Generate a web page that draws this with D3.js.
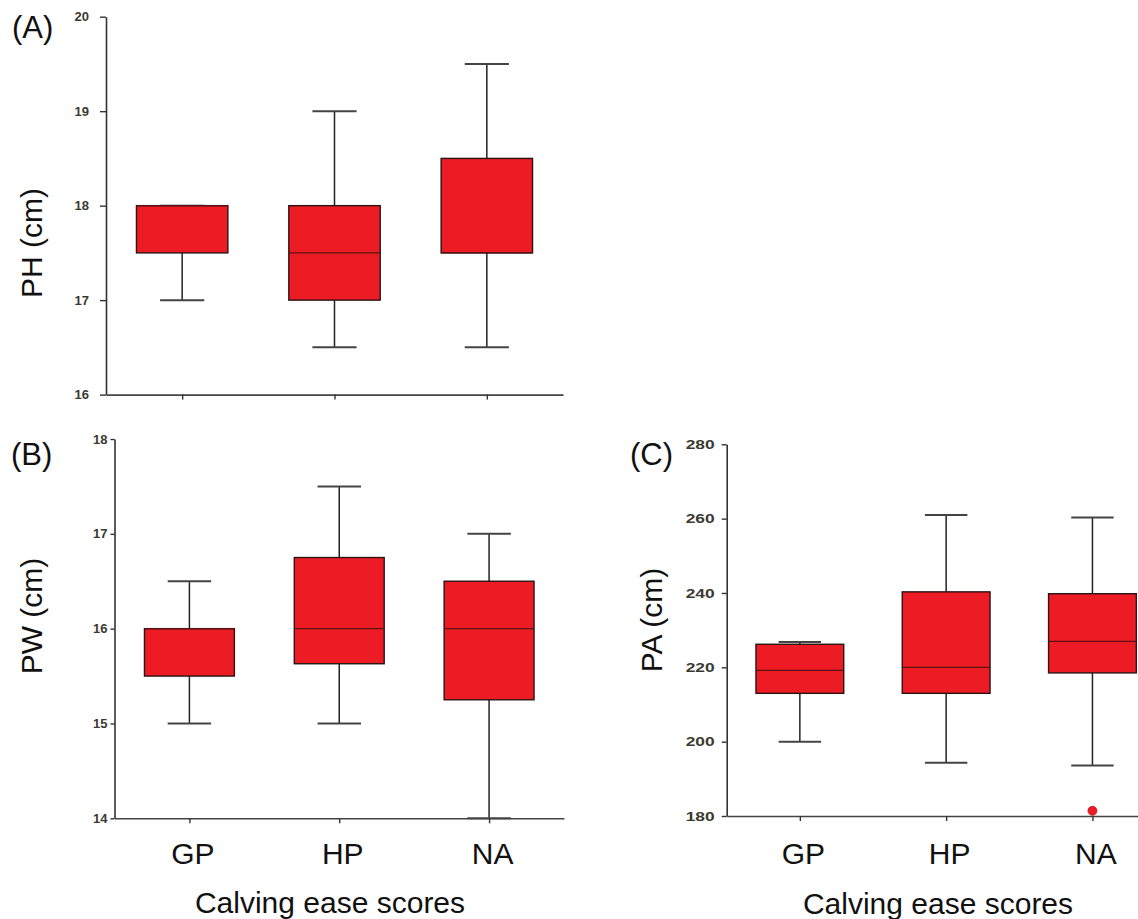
<!DOCTYPE html>
<html>
<head>
<meta charset="utf-8">
<script src="https://cdn.jsdelivr.net/npm/d3@7"></script>
<style>
  html, body { margin: 0; padding: 0; background: #fff; }
  svg { display: block; }
  text { font-family: "Liberation Sans", Arial, sans-serif; }
</style>
</head>
<body>
<svg id="chart" width="1138" height="919"></svg>
<script>
// ---- data ----
const categories = ["GP", "HP", "NA"];

// (A) PH (cm)
const phMin = [17.0, 16.5, 16.5];
const phQ1  = [17.5, 17.0, 17.5];
const phMed = [18.0, 17.5, 17.5];
const phQ3  = [18.0, 18.0, 18.5];
const phMax = [18.0, 19.0, 19.5];
const phTicks = [16, 17, 18, 19, 20];

// (B) PW (cm)
const pwMin = [15.0, 15.0, 14.0];
const pwQ1  = [15.5, 15.63, 15.25];
const pwMed = [16.0, 16.0, 16.0];
const pwQ3  = [16.0, 16.75, 16.5];
const pwMax = [16.5, 17.5, 17.0];
const pwTicks = [14, 15, 16, 17, 18];

// (C) PA (cm)
const paMin = [200.0, 194.3, 193.6];
const paQ1  = [213.0, 213.0, 218.5];
const paMed = [219.2, 220.0, 227.0];
const paQ3  = [226.2, 240.3, 239.8];
const paMax = [226.8, 261.0, 260.3];
const paOutCat = ["NA"];
const paOutVal = [181.4];
const paTicks = [180, 200, 220, 240, 260, 280];

const xTitle = "Calving ease scores";

// ---- drawing ----
const svg = d3.select("#chart");
const FILL = "#ed1c24";

function panel(cfg) {
  const g = svg.append("g");
  const x = d3.scalePoint().domain(categories).range([cfg.x0, cfg.x1]).padding(0.5);
  const y = d3.scaleLinear().domain(cfg.domain).range([cfg.yBottom, cfg.yTop]);
  const step = x.step();
  const bw = step * 0.6, cw = step * 0.29;

  const rows = categories.map((c, i) => ({
    c, min: cfg.min[i], q1: cfg.q1[i], med: cfg.med[i], q3: cfg.q3[i], max: cfg.max[i]
  }));

  // whiskers
  g.selectAll(".wl").data(rows).join("line")
    .attr("x1", d => x(d.c)).attr("x2", d => x(d.c))
    .attr("y1", d => y(d.min)).attr("y2", d => y(d.q1))
    .attr("stroke", "#222").attr("stroke-width", 1.5);
  g.selectAll(".wu").data(rows).join("line")
    .attr("x1", d => x(d.c)).attr("x2", d => x(d.c))
    .attr("y1", d => y(d.q3)).attr("y2", d => y(d.max))
    .attr("stroke", "#222").attr("stroke-width", 1.5);
  // caps
  ["min", "max"].forEach(k => {
    g.selectAll(".cap" + k).data(rows).join("line")
      .attr("x1", d => x(d.c) - cw / 2).attr("x2", d => x(d.c) + cw / 2)
      .attr("y1", d => y(d[k])).attr("y2", d => y(d[k]))
      .attr("stroke", "#444").attr("stroke-width", 2);
  });
  // boxes
  g.selectAll(".box").data(rows).join("rect")
    .attr("x", d => x(d.c) - bw / 2).attr("width", bw)
    .attr("y", d => y(d.q3)).attr("height", d => y(d.q1) - y(d.q3))
    .attr("fill", FILL).attr("stroke", "#2a1414").attr("stroke-width", 1.4);
  // medians
  g.selectAll(".med").data(rows).join("line")
    .attr("x1", d => x(d.c) - bw / 2).attr("x2", d => x(d.c) + bw / 2)
    .attr("y1", d => y(d.med)).attr("y2", d => y(d.med))
    .attr("stroke", "#5a1212").attr("stroke-width", 1.3);
  // outliers
  if (cfg.outCat) {
    g.selectAll(".out").data(cfg.outCat.map((c, i) => ({ c, v: cfg.outVal[i] }))).join("circle")
      .attr("cx", d => x(d.c)).attr("cy", d => y(d.v)).attr("r", 4.5)
      .attr("fill", FILL).attr("stroke", "#c0151b").attr("stroke-width", 0.8);
  }

  // y axis
  const ya = g.append("g").attr("transform", `translate(${cfg.x0},0)`)
    .call(d3.axisLeft(y).tickValues(cfg.ticks).tickFormat(d3.format("d"))
      .tickSize(cfg.tickLen).tickSizeOuter(0).tickPadding(cfg.tickPad));
  ya.select(".domain").attr("stroke", "#333").attr("stroke-width", 1.6);
  ya.selectAll(".tick line").attr("stroke", "#333").attr("stroke-width", 1.4);
  ya.selectAll(".tick text")
    .attr("font-family", "'Liberation Sans', Arial, sans-serif")
    .attr("font-size", 13).attr("font-weight", "bold").attr("fill", "#3a3a30");
  if (cfg.tickTextLen) {
    ya.selectAll(".tick text").attr("textLength", cfg.tickTextLen).attr("lengthAdjust", "spacingAndGlyphs");
  }

  // x axis
  const xa = g.append("g").attr("transform", `translate(0,${cfg.yBottom})`)
    .call(d3.axisBottom(x).tickSize(5).tickSizeOuter(0).tickPadding(22));
  xa.select(".domain").attr("stroke", "#444").attr("stroke-width", 1.6);
  xa.selectAll(".tick line").attr("stroke", "#333").attr("stroke-width", 1.4);
  xa.selectAll(".tick text")
    .attr("font-family", "'Liberation Sans', Arial, sans-serif")
    .attr("font-size", cfg.showX ? 30 : 0).attr("fill", "#111")
    .attr("dx", 3).attr("dy", "0.71em")
    .text(d => cfg.showX ? d : "");
  if (!cfg.showX) xa.selectAll(".tick text").remove();
  else xa.selectAll(".tick text").attr("y", 0).attr("transform", "translate(0," + (cfg.catBase - cfg.yBottom - 21.3) + ")");

  // y title
  g.append("text")
    .attr("transform", `translate(${cfg.yTitleX},${cfg.yTitleY}) rotate(-90)`)
    .attr("text-anchor", "middle").attr("font-size", 30).attr("fill", "#111")
    .text(cfg.yTitle);

  // x title
  if (cfg.showX) {
    g.append("text").attr("x", cfg.xTitleX).attr("y", cfg.xTitleY)
      .attr("text-anchor", "middle").attr("font-size", 30).attr("fill", "#111")
      .text(xTitle);
  }

  // panel label
  g.append("text").attr("x", cfg.labX).attr("y", cfg.labY)
    .attr("font-size", 31).attr("fill", "#111").text(cfg.label);
}

panel({
  x0: 106, x1: 563, yTop: 16.7, yBottom: 394.6, domain: [16, 20],
  min: phMin, q1: phQ1, med: phMed, q3: phQ3, max: phMax, ticks: phTicks,
  tickLen: 6, tickPad: 11, showX: false,
  yTitle: "PH (cm)", yTitleX: 42, yTitleY: 243,
  label: "(A)", labX: 12, labY: 38
});

panel({
  x0: 114.5, x1: 564, yTop: 439, yBottom: 818.3, domain: [14, 18],
  min: pwMin, q1: pwQ1, med: pwMed, q3: pwQ3, max: pwMax, ticks: pwTicks,
  tickLen: 4, tickPad: 3, showX: true, catBase: 864,
  yTitle: "PW (cm)", yTitleX: 42, yTitleY: 616,
  xTitleX: 330, xTitleY: 913,
  label: "(B)", labX: 11, labY: 465
});

panel({
  x0: 726.7, x1: 1165.6, yTop: 444.3, yBottom: 816, domain: [180, 280],
  min: paMin, q1: paQ1, med: paMed, q3: paQ3, max: paMax, ticks: paTicks,
  outCat: paOutCat, outVal: paOutVal,
  tickLen: 5, tickPad: 7, tickTextLen: 29, showX: true, catBase: 864,
  yTitle: "PA (cm)", yTitleX: 662, yTitleY: 620,
  xTitleX: 938, xTitleY: 914,
  label: "(C)", labX: 630, labY: 465
});
</script>
</body>
</html>
